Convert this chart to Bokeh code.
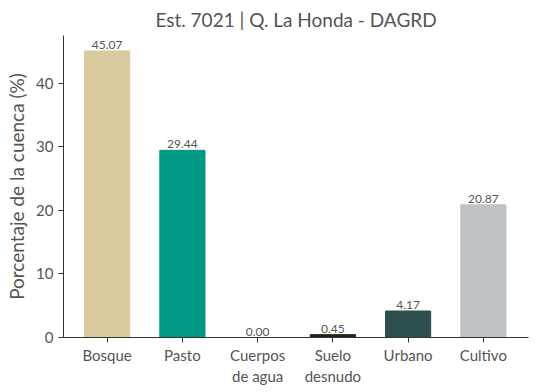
from bokeh.plotting import figure
from bokeh.models import ColumnDataSource, Range1d, FixedTicker, LabelSet
from bokeh.core.properties import value
from bokeh.embed import file_html
from bokeh.resources import INLINE

categories = ["Bosque", "Pasto", "Cuerpos\nde agua", "Suelo\ndesnudo", "Urbano", "Cultivo"]
values = [45.07, 29.44, 0.00, 0.45, 4.17, 20.87]
colors = ["#D9CB9D", "#009784", "#4A90C0", "#1C2A15", "#2D4F4E", "#BEC3C6"]
labels = ["%.2f" % v for v in values]
xs = list(range(len(categories)))

src = ColumnDataSource(dict(x=xs, top=values, color=colors, label=labels))

FONT = "Lato"
GREY = "#555555"

p = figure(width=530, height=388, output_backend="svg", toolbar_location=None,
           x_range=Range1d(-0.58, 5.6), y_range=Range1d(0, 47.5),
           min_border_left=63, min_border_right=2, min_border_top=25, min_border_bottom=40)

p.vbar(x="x", top="top", width=0.6, color="color", source=src)

lbl = LabelSet(x="x", y="top", text="label", source=src, text_align="center",
               text_baseline="bottom", text_font_size=value("12px"), text_color=value(GREY),
               text_font=value(FONT), y_offset=2)
p.add_layout(lbl)

p.title.text = "Est. 7021 | Q. La Honda - DAGRD"
p.title.align = "center"
p.title.text_font = FONT
p.title.text_font_size = "19px"
p.title.text_font_style = "normal"
p.title.text_color = GREY
p.title.offset = 0

p.xgrid.visible = False
p.ygrid.visible = False
p.outline_line_color = None

p.xaxis.ticker = FixedTicker(ticks=xs)
p.xaxis.major_label_overrides = {i: c for i, c in enumerate(categories)}
p.xaxis.major_label_standoff = 3
p.yaxis.ticker = FixedTicker(ticks=[0, 10, 20, 30, 40])
p.yaxis.axis_label = "Porcentaje de la cuenca (%)"
p.yaxis.axis_label_text_font = FONT
p.yaxis.axis_label_text_font_size = "19px"
p.yaxis.axis_label_text_font_style = "normal"
p.yaxis.axis_label_text_color = GREY

for ax in (p.xaxis, p.yaxis):
    ax.major_label_text_font = FONT
    ax.major_label_text_font_size = "15px"
    ax.major_label_text_color = GREY
    ax.axis_line_color = "#333333"
    ax.major_tick_line_color = "#333333"
    ax.major_tick_out = 5
    ax.major_tick_in = 0
    ax.minor_tick_line_color = None

open("out.html", "w").write(file_html(p, INLINE))
